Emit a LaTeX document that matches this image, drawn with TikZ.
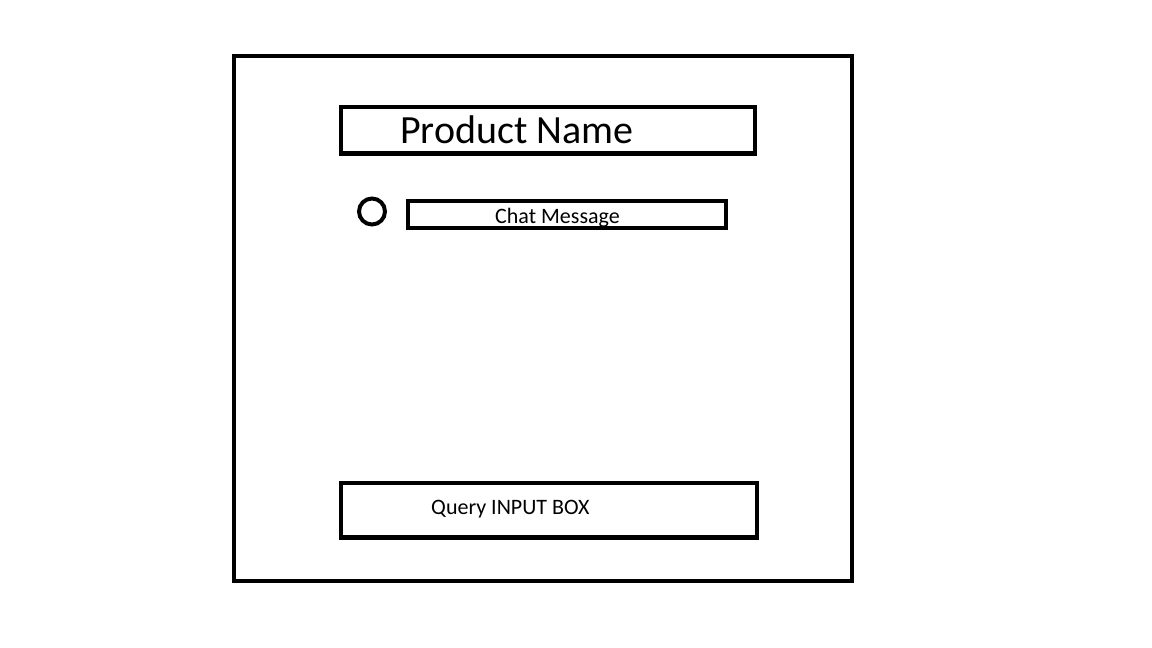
\documentclass[tikz,border=0pt]{standalone}
\usepackage{fontspec}
\setmainfont{Carlito}
\begin{document}
\begin{tikzpicture}[x=1pt,y=-1pt,
  frame/.style={draw=black,line width=4.5pt,fill=none},
  lbl/.style={anchor=base west,inner sep=0pt,text=black}]
\useasboundingbox (0,0) rectangle (1152,648);
% outer frame
\draw[frame] (234,56) rectangle (852,581);
\coordinate (outer) at (543,318);
% product name
\node[lbl,font=\fontsize{40}{44}\selectfont] (pname) at (400,143.5) {Product Name};
\draw[frame] (341,107) rectangle (755,153.5);
% avatar circle
\node[draw=black,line width=4pt,circle,minimum size=26pt,inner sep=0pt] (avatar) at (372,211.5) {};
% chat message
\node[lbl,font=\fontsize{22}{26}\selectfont] (chat) at (495,223.5) {Chat Message};
\fill[white] (410,228) rectangle (724,240);
\draw[frame] (408,201) rectangle (726,228);
% query input
\node[lbl,font=\fontsize{22}{26}\selectfont] (query) at (431,514) {Query INPUT BOX};
\draw[frame] (341,483) rectangle (757,537.5);
\end{tikzpicture}
\end{document}
